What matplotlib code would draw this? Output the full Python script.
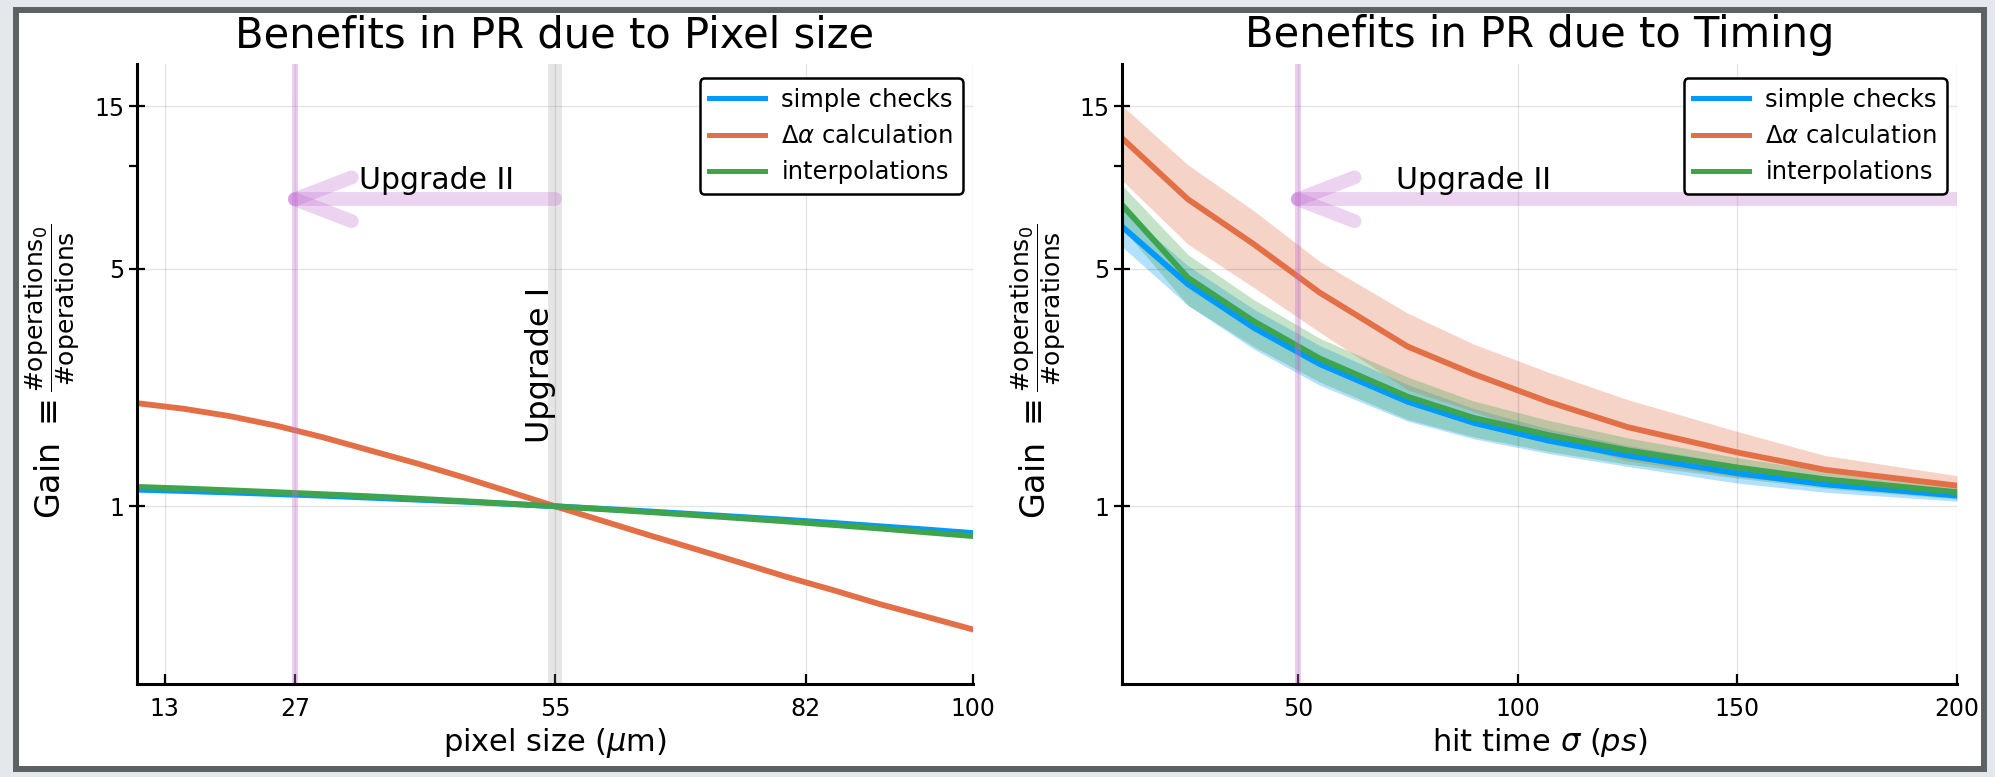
import matplotlib
matplotlib.use('Agg')
import matplotlib.pyplot as plt
import numpy as np
from matplotlib.patches import Rectangle

# pixel size scan (gain normalised at 55 um)
pixel_size = [10, 15, 20, 25, 30, 35, 40, 45, 50, 55, 60, 65, 70, 75, 80, 85, 90, 95, 100]
pix_simple = [1.119, 1.109, 1.098, 1.086, 1.074, 1.060, 1.046, 1.032, 1.016, 1.0,
              0.983, 0.966, 0.948, 0.930, 0.912, 0.893, 0.873, 0.854, 0.834]
pix_dalpha = [2.01, 1.936, 1.841, 1.726, 1.596, 1.462, 1.34, 1.22, 1.105, 1.0,
              0.908, 0.824, 0.75, 0.682, 0.619, 0.566, 0.515, 0.473, 0.434]
pix_interp = [1.140, 1.128, 1.114, 1.100, 1.085, 1.070, 1.053, 1.036, 1.018, 1.0,
              0.981, 0.962, 0.942, 0.922, 0.902, 0.881, 0.860, 0.838, 0.817]
pix_ticks = [13, 27, 55, 82, 100]

# hit time resolution scan
sigma = [10, 25, 40, 55, 75, 90, 107, 125, 150, 170, 200]
t_simple = [6.65, 4.5, 3.35, 2.62, 2.03, 1.76, 1.56, 1.41, 1.25, 1.16, 1.075]
t_simple_err = [0.85, 0.6, 0.45, 0.35, 0.25, 0.18, 0.13, 0.1, 0.08, 0.06, 0.04]
t_dalpha = [12.1, 8.0, 5.9, 4.25, 2.95, 2.45, 2.03, 1.71, 1.44, 1.28, 1.15]
t_dalpha_err = [3.0, 2.1, 1.5, 1.0, 0.75, 0.55, 0.45, 0.35, 0.22, 0.13, 0.08]
t_interp = [7.7, 4.7, 3.5, 2.72, 2.1, 1.82, 1.62, 1.46, 1.3, 1.2, 1.1]
t_interp_err = [1.1, 0.8, 0.55, 0.4, 0.3, 0.22, 0.17, 0.13, 0.09, 0.07, 0.05]
t_ticks = [50, 100, 150, 200]

gain_ticks = [1, 5, 15]
labels = ['simple checks', r'$\Delta\alpha$ calculation', 'interpolations']
colors = ['#009afa', '#e36f47', '#3ea44e']
purple = '#c371d2'

upgrade1_pix = 55
upgrade2_pix = 27
upgrade2_time = 50
arrow_y = 8.0

fig = plt.figure(figsize=(19.95, 7.77), dpi=100)
fig.patch.set_facecolor('#e4e7eb')
fig.add_artist(Rectangle((15.5/1995, 8/777), 1968.5/1995, 759/777, transform=fig.transFigure,
                         facecolor='white', edgecolor='#5c6161', lw=4.3, zorder=-10))

ax1 = fig.add_axes([137/1995, 93/777, 836/1995, 620/777])
ax2 = fig.add_axes([1122/1995, 93/777, 835/1995, 620/777])

gain_txt = r'Gain $\equiv$'
ratio_txt = r'$\dfrac{\#\mathrm{operations}_0}{\#\mathrm{operations}}$'


def style(ax, xlim, xticks):
    ax.set_facecolor('none')
    ax.set_yscale('log')
    ax.set_ylim(0.3, 20)
    ax.set_xlim(*xlim)
    ax.set_yticks(gain_ticks)
    ax.set_yticklabels([str(t) for t in gain_ticks])
    ax.set_yticks([10], minor=True)
    ax.set_yticklabels([''], minor=True)
    ax.set_xticks(xticks)
    ax.grid(True, which='major', color='black', alpha=0.1, lw=1)
    for s in ['top', 'right']:
        ax.spines[s].set_visible(False)
    for s in ['left', 'bottom']:
        ax.spines[s].set_linewidth(2.2)
    ax.tick_params(axis='x', direction='in', length=7, width=1.6, labelsize=17, pad=9)
    ax.tick_params(axis='y', which='major', direction='inout', length=11, width=1.6, labelsize=17)
    ax.tick_params(axis='y', which='minor', direction='out', length=6, width=1.6)
    # y label: big "Gain =" followed by a smaller ratio
    ax.text(-0.104, 0.363, gain_txt, fontsize=24, rotation=90, ha='center', va='center',
            transform=ax.transAxes)
    ax.text(-0.101, 0.607, ratio_txt, fontsize=18, rotation=90, ha='center', va='center',
            transform=ax.transAxes)


def arrow(ax, x_from, x_to, y):
    head = 0.068 * (ax.get_xlim()[1] - ax.get_xlim()[0])
    kw = dict(color=purple, alpha=0.3, lw=10, solid_capstyle='round')
    ax.plot([x_from, x_to], [y, y], **kw)
    ax.plot([x_to, x_to + head], [y, y * 1.16], **kw)
    ax.plot([x_to, x_to + head], [y, y / 1.16], **kw)


# left: pixel size
for yv, c, lab in zip([pix_simple, pix_dalpha, pix_interp], colors, labels):
    ax1.plot(pixel_size, yv, color=c, lw=4.2, label=lab)
style(ax1, (10, 100), pix_ticks)
ax1.axvline(upgrade1_pix, color='gray', alpha=0.2, lw=10)
ax1.axvline(upgrade2_pix, color=purple, alpha=0.35, lw=4.3)
arrow(ax1, upgrade1_pix, upgrade2_pix, arrow_y)
ax1.text(42.2, 8.6, 'Upgrade II', fontsize=21.5, ha='center', va='baseline')
ax1.text(53.4, 2.6, 'Upgrade I', fontsize=23, ha='center', va='center', rotation=90)
ax1.set_xlabel(r'pixel size ($\mu$m)', fontsize=22)
ax1.set_title('Benefits in PR due to Pixel size', fontsize=30, pad=12)

# right: timing
for yv, err, c, lab in zip([t_simple, t_dalpha, t_interp],
                           [t_simple_err, t_dalpha_err, t_interp_err], colors, labels):
    yv = np.array(yv)
    err = np.array(err)
    ax2.fill_between(sigma, yv - err, yv + err, color=c, alpha=0.3, lw=0)
    ax2.plot(sigma, yv, color=c, lw=4.2, label=lab)
style(ax2, (10, 200), t_ticks)
ax2.axvline(upgrade2_time, color=purple, alpha=0.35, lw=4.3)
arrow(ax2, 200, upgrade2_time, arrow_y)
ax2.text(90, 8.6, 'Upgrade II', fontsize=21.5, ha='center', va='baseline')
ax2.set_xlabel(r'hit time $\sigma$ $(ps)$', fontsize=22)
ax2.set_title('Benefits in PR due to Timing', fontsize=30, pad=12)

for ax in (ax1, ax2):
    leg = ax.legend(loc='upper right', bbox_to_anchor=(0.988, 0.977), fontsize=17.5,
                    handlelength=2.3, handletextpad=0.66, borderpad=0.4, labelspacing=0.5,
                    framealpha=1, fancybox=True, borderaxespad=0)
    leg.get_frame().set_edgecolor('black')
    leg.get_frame().set_linewidth(1.8)
    for h in leg.get_lines():
        h.set_linewidth(3.6)

fig.savefig('out.png', dpi=100)
